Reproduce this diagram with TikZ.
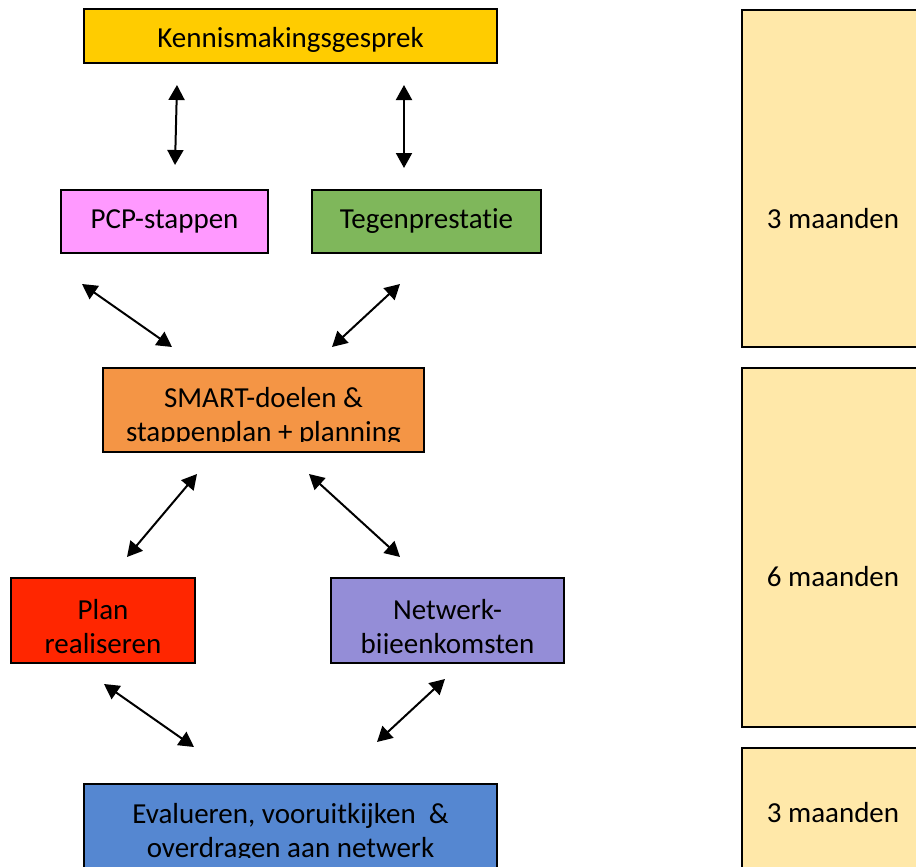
\documentclass[tikz,border=0pt]{standalone}
\usepackage{fontspec}
\setmainfont{Carlito}[Ligatures={NoCommon}]
\usetikzlibrary{arrows.meta}
\definecolor{cKen}{HTML}{FFCC00}
\definecolor{cPcp}{HTML}{FF99FF}
\definecolor{cTeg}{HTML}{7FB75B}
\definecolor{cSma}{HTML}{F49545}
\definecolor{cPla}{HTML}{FF2600}
\definecolor{cNet}{HTML}{948DD7}
\definecolor{cEva}{HTML}{5587D1}
\definecolor{cMnd}{HTML}{FFE8A9}
\begin{document}
\begin{tikzpicture}[x=1pt,y=-1pt,
  box/.style={draw=black, line width=1.6pt, rectangle, inner sep=0pt, outer sep=0pt},
  lbl/.style={anchor=base, inner sep=0pt, outer sep=0pt, font=\fontsize{29}{34}\selectfont},
  biarrow/.style={line width=2pt, {Triangle[length=15pt,width=16pt]}-{Triangle[length=15pt,width=16pt]}}
]
\useasboundingbox (0,0) rectangle (916,867);
\clip (0,0) rectangle (916,867);

% boxes
\node[box, fill=cKen, minimum width=413pt, minimum height=54pt] (kennis) at (290.5,36) {};
\node[box, fill=cPcp, minimum width=207pt, minimum height=63pt] (pcp) at (164.5,221.5) {};
\node[box, fill=cTeg, minimum width=229pt, minimum height=63pt] (tegen) at (426.5,221.5) {};
\node[box, fill=cSma, minimum width=321pt, minimum height=84pt] (smart) at (263.5,410) {};
\node[box, fill=cPla, minimum width=184pt, minimum height=85pt] (plan) at (103,620.5) {};
\node[box, fill=cNet, minimum width=233pt, minimum height=85pt] (netwerk) at (447.5,620.5) {};
\node[box, fill=cEva, minimum width=413pt, minimum height=86pt] (eval) at (290.5,827) {};
\node[box, fill=cMnd, minimum width=182pt, minimum height=337pt] (r1) at (833,178.5) {};
\node[box, fill=cMnd, minimum width=182pt, minimum height=359pt] (r2) at (833,547.5) {};
\node[box, fill=cMnd, minimum width=182pt, minimum height=132pt] (r3) at (833,814) {};

% labels
\node[lbl] (tkennis) at (290.5,48) {Kennismakingsgesprek};
\node[lbl] (tpcp) at (164.5,228) {PCP-stappen};
\node[lbl] (ttegen) at (426.5,228) {Tegenprestatie};
\begin{scope}
  \clip (smart.north west) rectangle ([yshift=10.5pt]smart.south east);
  \node[lbl] (tsmart1) at (263.5,407) {SMART-doelen \&};
  \node[lbl] (tsmart2) at (263.5,441) {stappenplan + planning};
\end{scope}
\begin{scope}
  \clip (plan.north west) rectangle ([yshift=9.5pt]plan.south east);
  \node[lbl] (tplan1) at (103,619) {Plan};
  \node[lbl] (tplan2) at (103,653) {realiseren};
\end{scope}
\begin{scope}
  \clip (netwerk.north west) rectangle ([yshift=9.5pt]netwerk.south east);
  \node[lbl] (tnet1) at (447.5,619) {Netwerk-};
  \node[lbl] (tnet2) at (447.5,653) {bijeenkomsten};
\end{scope}
\begin{scope}
  \clip (eval.north west) rectangle ([yshift=12.5pt]eval.south east);
  \node[lbl] (teval1) at (290.5,823) {Evalueren, vooruitkijken\ \ \&};
  \node[lbl] (teval2) at (290.5,857) {overdragen aan netwerk};
\end{scope}
\node[lbl] (tr1) at (833,228) {3 maanden};
\node[lbl] (tr2) at (833,586) {6 maanden};
\node[lbl] (tr3) at (833,822) {3 maanden};

% arrow end points
\coordinate (a1s) at (177,85);  \coordinate (a1e) at (175,165);
\coordinate (a2s) at (404,85);  \coordinate (a2e) at (404,168);
\coordinate (a3s) at (82,284);  \coordinate (a3e) at (172,347);
\coordinate (a4s) at (400,284); \coordinate (a4e) at (332,347);
\coordinate (a5s) at (197,474); \coordinate (a5e) at (127,557);
\coordinate (a6s) at (309,474); \coordinate (a6e) at (400,557);
\coordinate (a7s) at (104,684); \coordinate (a7e) at (194,747);
\coordinate (a8s) at (445,679); \coordinate (a8e) at (377,742);

\draw[biarrow] (a1s) -- (a1e);
\draw[biarrow] (a2s) -- (a2e);
\draw[biarrow] (a3s) -- (a3e);
\draw[biarrow] (a4s) -- (a4e);
\draw[biarrow] (a5s) -- (a5e);
\draw[biarrow] (a6s) -- (a6e);
\draw[biarrow] (a7s) -- (a7e);
\draw[biarrow] (a8s) -- (a8e);
\end{tikzpicture}
\end{document}
